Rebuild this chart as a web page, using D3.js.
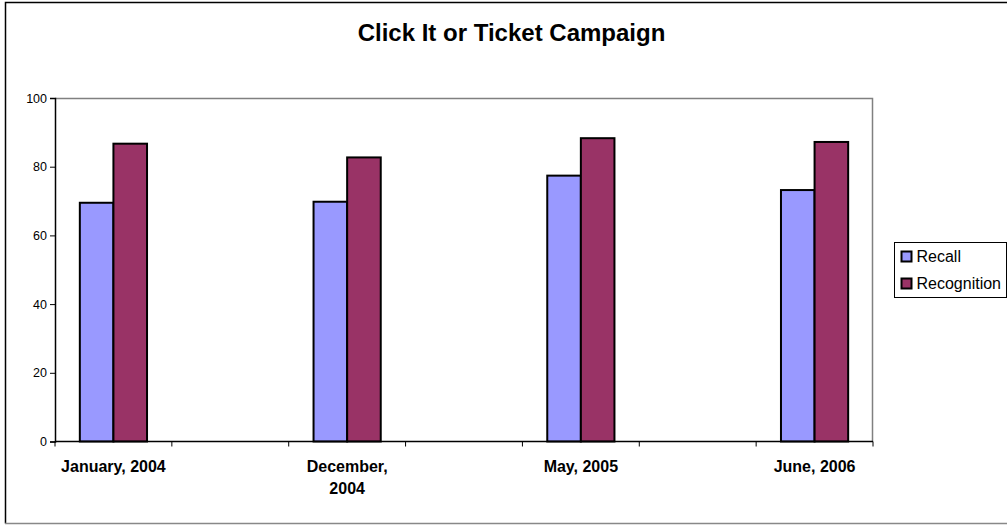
<!DOCTYPE html>
<html>
<head>
<meta charset="utf-8">
<script src="https://cdn.jsdelivr.net/npm/d3@7"></script>
<style>
  body { margin: 0; background: #fff; }
  svg { display: block; font-family: Arial, "Liberation Sans", sans-serif; }
</style>
</head>
<body>
<script>
'use strict';
// data (7 category slots, every other one empty)
let categories = ["January, 2004", "", "December, 2004", "", "May, 2005", "", "June, 2006"];
let recall = [69.5, null, 69.8, null, 77.4, null, 73.2];
let recognition = [86.7, null, 82.7, null, 88.3, null, 87.2];
let seriesNames = ["Recall", "Recognition"];
let seriesColors = ["#9999ff", "#993366"];
let yTicks = [0, 20, 40, 60, 80, 100];

let W = 1007, H = 525;
let plot = {left: 55, right: 873, top: 98, bottom: 441.5};

let svg = d3.select("body").append("svg")
	.attr("width", W)
	.attr("height", H);

// outer chart border (clipped on the right like the original)
svg.append("path")
	.attr("d", "M5.5," + (H - 1.5) + " V2.5 H" + (W + 5))
	.attr("fill", "none")
	.attr("stroke", "#000")
	.attr("stroke-width", 1.5);
svg.append("line")
	.attr("x1", 5).attr("x2", W)
	.attr("y1", H - 1.5).attr("y2", H - 1.5)
	.attr("stroke", "#888")
	.attr("stroke-width", 1.5);

svg.append("text")
	.attr("x", 511.5)
	.attr("y", 41)
	.attr("text-anchor", "middle")
	.attr("font-size", "24px")
	.attr("font-weight", "bold")
	.text("Click It or Ticket Campaign");

let y = d3.scaleLinear().domain([0, 100]).range([plot.bottom, plot.top]);
let x0 = d3.scaleBand().domain(d3.range(categories.length)).range([plot.left, plot.right]).padding(0);
let groupW = x0.bandwidth() * 0.575;
let x1 = d3.scaleBand().domain(seriesNames).range([(x0.bandwidth() - groupW) / 2, (x0.bandwidth() + groupW) / 2]);

// plot area frame (grey top / right)
svg.append("path")
	.attr("d", "M" + plot.left + "," + (plot.top + 0.5) + " H" + (plot.right - 0.5) + " V" + plot.bottom)
	.attr("fill", "none")
	.attr("stroke", "#808080")
	.attr("stroke-width", 1.5);

// bars
let rows = categories.map(function(c, i) {
	return {i: i, vals: [recall[i], recognition[i]]};
}).filter(function(r) { return r.vals[0] != null; });

let groups = svg.selectAll("g.cat")
	.data(rows)
	.enter().append("g")
		.attr("class", "cat")
		.attr("transform", function(d) { return "translate(" + x0(d.i) + ",0)"; });

groups.selectAll("rect")
	.data(function(d) { return d.vals.map(function(v, k) { return {name: seriesNames[k], v: v, k: k}; }); })
	.enter().append("rect")
		.attr("x", function(d) { return x1(d.name); })
		.attr("width", x1.bandwidth())
		.attr("y", function(d) { return y(d.v); })
		.attr("height", function(d) { return y(0) - y(d.v); })
		.attr("fill", function(d) { return seriesColors[d.k]; })
		.attr("stroke", "#000")
		.attr("stroke-width", 2);

// y axis
let yAxis = svg.append("g")
	.attr("transform", "translate(" + plot.left + ",0)")
	.call(d3.axisLeft(y).tickValues(yTicks).tickSize(5).tickPadding(3));
yAxis.select(".domain").attr("stroke", "#000").attr("stroke-width", 1.5);
yAxis.selectAll(".tick line").attr("stroke", "#000");
yAxis.selectAll(".tick text")
	.attr("font-size", "12.5px")
	.attr("font-family", "Arial, 'Liberation Sans', sans-serif")
	.attr("fill", "#000");

// x axis: ticks at category boundaries
let bounds = d3.range(categories.length + 1).map(function(i) { return plot.left + i * x0.step(); });
let xAxisG = svg.append("g");
xAxisG.append("line")
	.attr("x1", plot.left).attr("x2", plot.right)
	.attr("y1", plot.bottom).attr("y2", plot.bottom)
	.attr("stroke", "#000")
	.attr("stroke-width", 1.5);
xAxisG.selectAll("line.tk")
	.data(bounds)
	.enter().append("line")
		.attr("class", "tk")
		.attr("x1", function(d) { return d; }).attr("x2", function(d) { return d; })
		.attr("y1", plot.bottom).attr("y2", plot.bottom + 5)
		.attr("stroke", "#000");

let labels = xAxisG.selectAll("text.cat")
	.data(categories.map(function(c, i) { return {c: c, i: i}; }).filter(function(d) { return d.c !== ""; }))
	.enter().append("text")
		.attr("class", "cat")
		.attr("x", function(d) { return x0(d.i) + x0.bandwidth() / 2; })
		.attr("y", 472)
		.attr("text-anchor", "middle")
		.attr("font-size", "16px")
		.attr("font-weight", "bold");

// wrap labels wider than one category slot
labels.each(function(d) {
	let t = d3.select(this);
	t.text(d.c);
	if (this.getComputedTextLength() > x0.step()) {
		let parts = d.c.split(" ");
		t.text(null);
		t.append("tspan").attr("x", t.attr("x")).text(parts[0]);
		t.append("tspan").attr("x", t.attr("x")).attr("dy", 22).text(parts.slice(1).join(" "));
	}
});

// legend
let lg = svg.append("g").attr("transform", "translate(894.5,242.5)");
lg.append("rect")
	.attr("width", 112)
	.attr("height", 55)
	.attr("fill", "#fff")
	.attr("stroke", "#000")
	.attr("stroke-width", 1);
let items = lg.selectAll("g.item")
	.data(seriesNames)
	.enter().append("g")
		.attr("class", "item")
		.attr("transform", function(d, i) { return "translate(7," + (9 + i * 27) + ")"; });
items.append("rect")
	.attr("width", 10).attr("height", 10)
	.attr("fill", function(d, i) { return seriesColors[i]; })
	.attr("stroke", "#000")
	.attr("stroke-width", 2);
items.append("text")
	.attr("x", 15)
	.attr("y", 10.5)
	.attr("font-size", "16px")
	.text(function(d) { return d; });
</script>
</body>
</html>
